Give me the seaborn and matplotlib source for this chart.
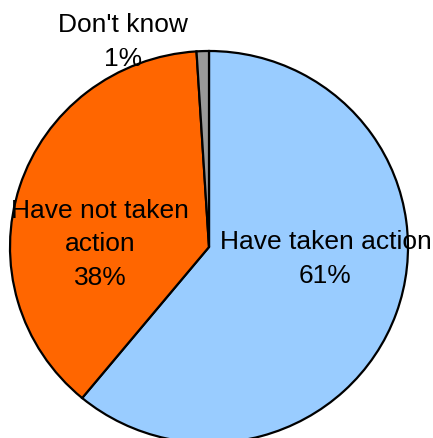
import matplotlib
matplotlib.use("Agg")
import matplotlib.pyplot as plt
import seaborn as sns

categories = ["Have taken action", "Have not taken\naction", "Don't know"]
values = [61, 38, 1]
colors = ["#99CCFF", "#FF6600", "#999999"]
label_pos = [(0.585, -0.055), (-0.548, 0.02), (-0.43, 1.052)]

sns.set_theme(style="white")
plt.rcParams['font.family'] = ['Liberation Sans', 'DejaVu Sans']

fig = plt.figure(figsize=(4.33, 4.39), dpi=100)
ax = fig.add_axes([0, 0, 1, 1])
wedges, _ = ax.pie(values, colors=colors, startangle=90, counterclock=False,
                   radius=1.0, center=(0, 0),
                   wedgeprops=dict(edgecolor="black", linewidth=1.6))

for cat, v, (x, y) in zip(categories, values, label_pos):
    ax.text(x, y, f"{cat}\n{v}%", ha="center", va="center", fontsize=19,
            linespacing=1.5, color="black")

ax.set_aspect("auto")
ax.set_xlim(-209 / 199, (433 - 209) / 199)
ax.set_ylim(-(439 - 248) / 196, 248 / 196)
ax.axis("off")
fig.savefig("out.png", dpi=100)
